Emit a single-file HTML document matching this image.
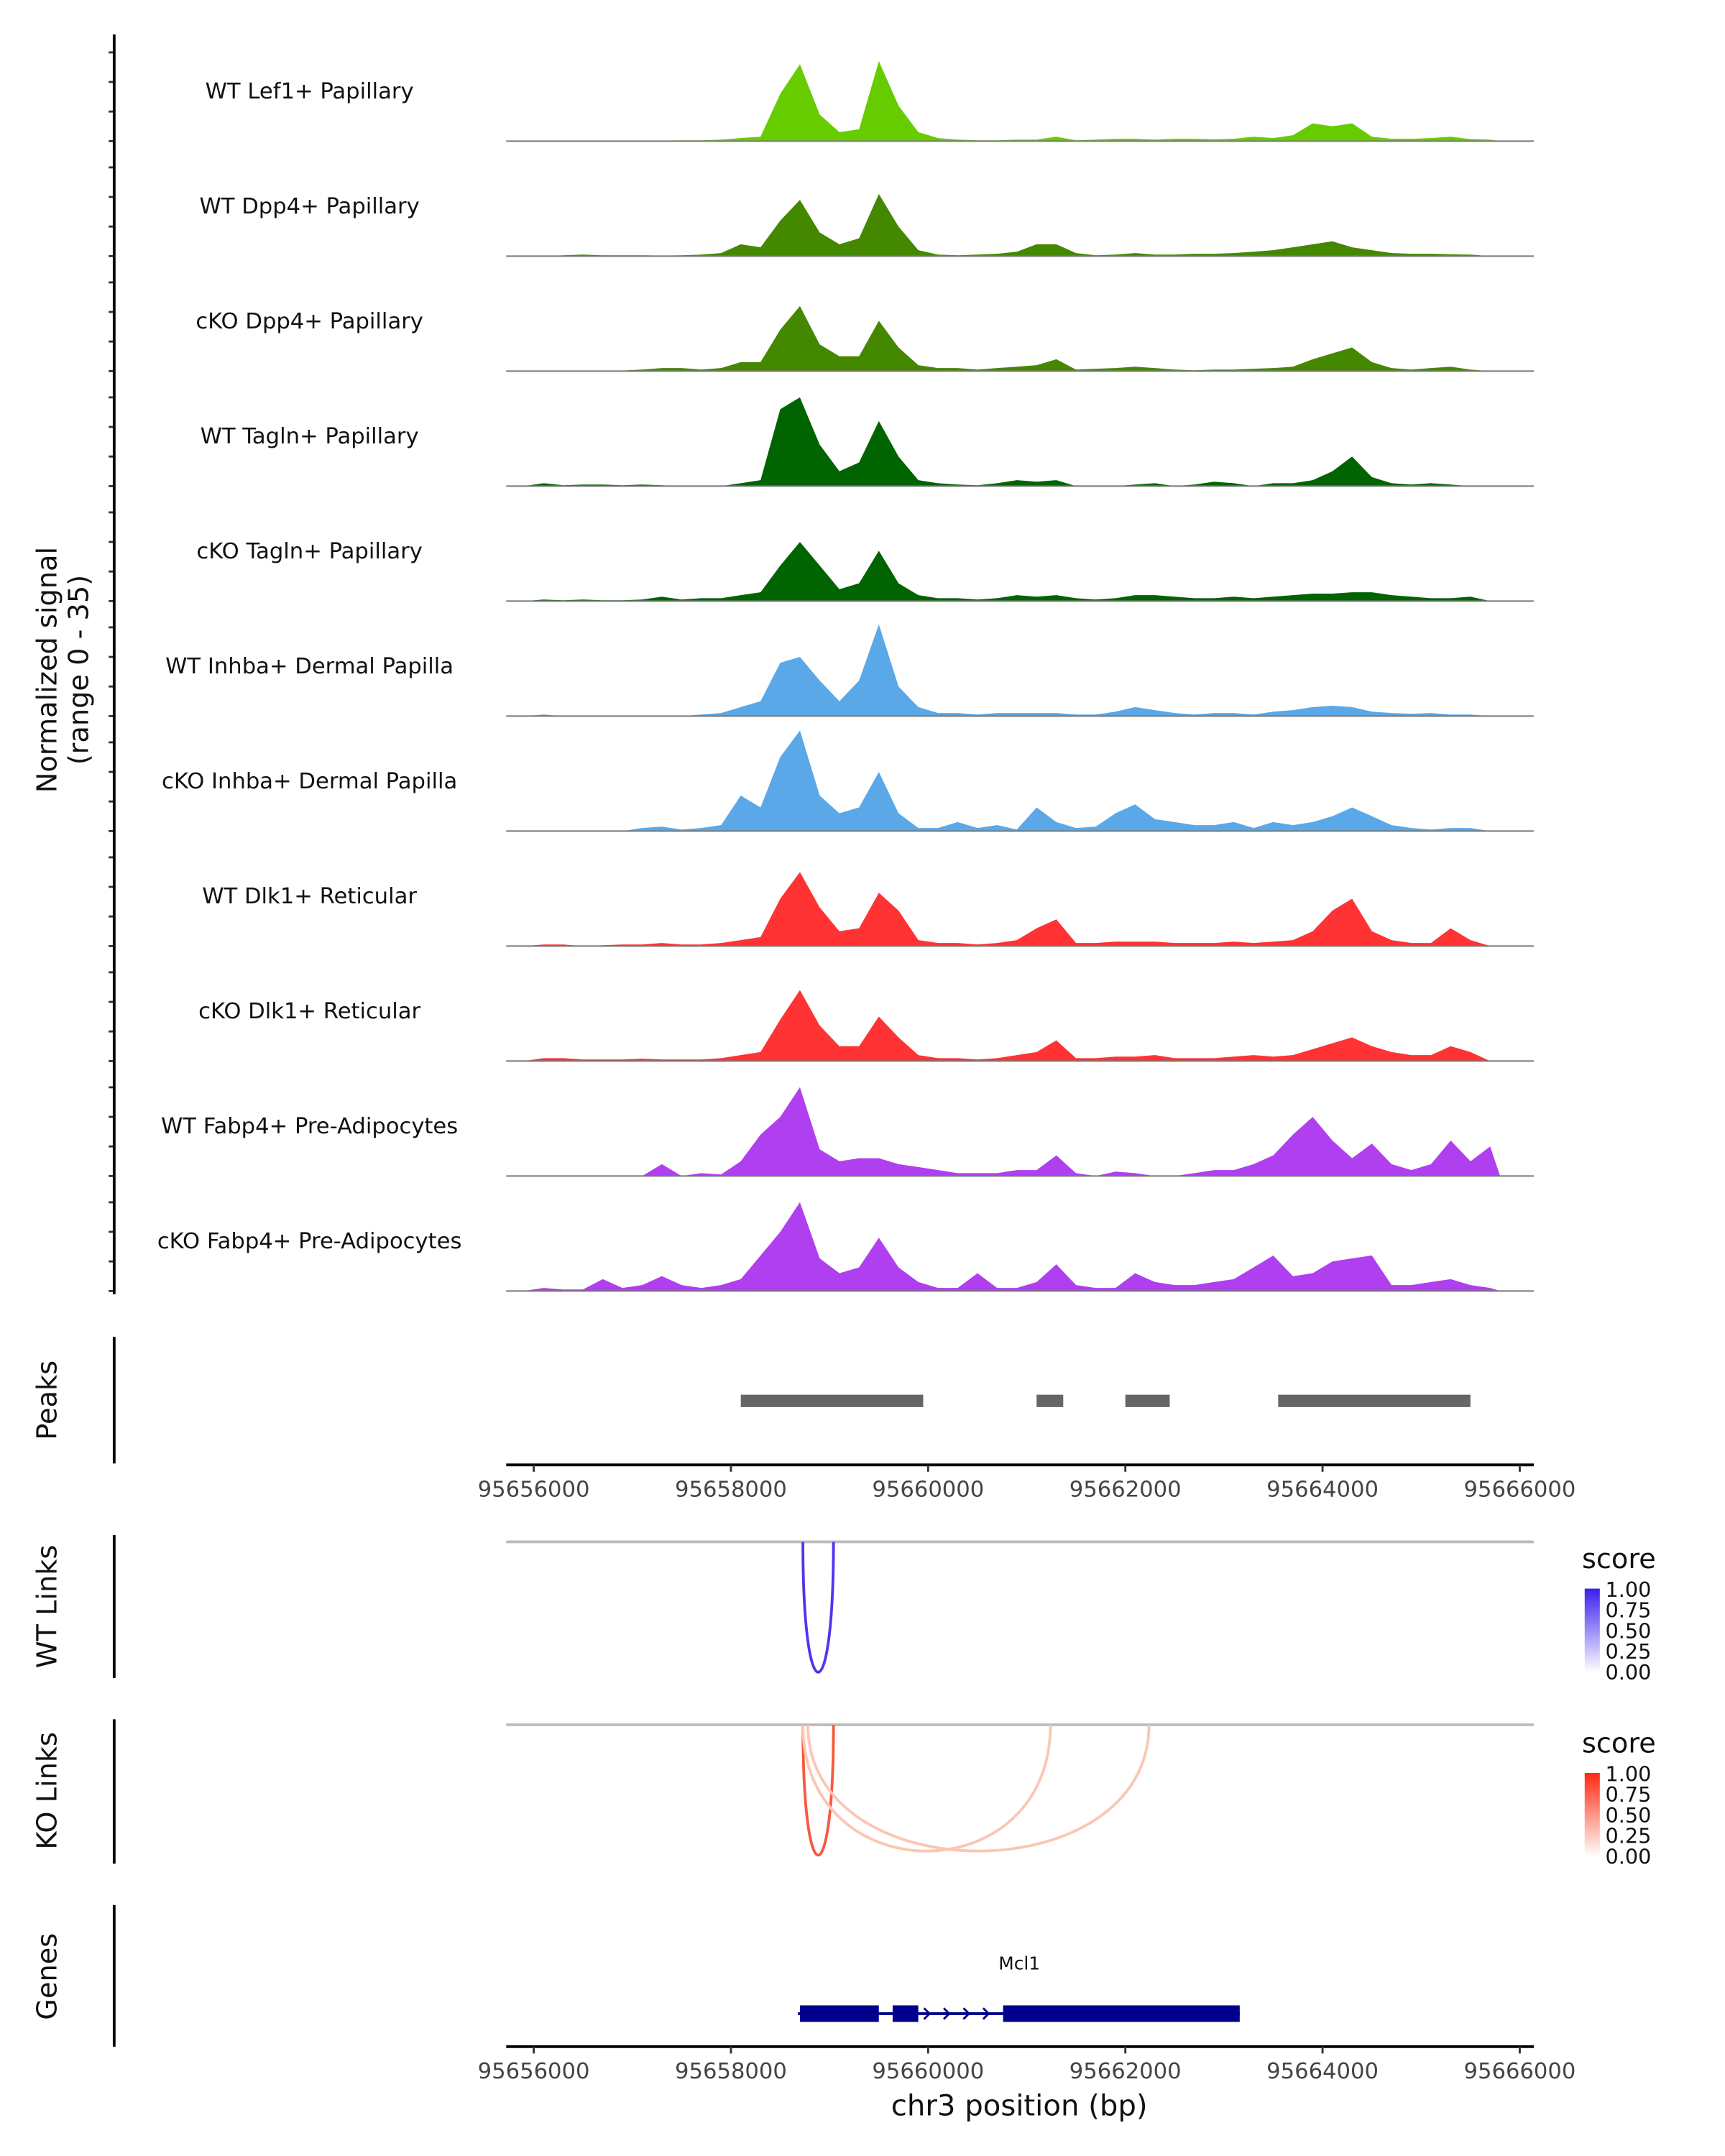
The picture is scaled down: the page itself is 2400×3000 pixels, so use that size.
<!DOCTYPE html>
<html><head><meta charset="utf-8"><style>html,body{margin:0;padding:0;background:#fff}svg{display:block}text{font-family:"DejaVu Sans","Liberation Sans",sans-serif}</style></head>
<body>
<svg id="chart" width="2400" height="3000" viewBox="0 0 1254 1567.5" xmlns="http://www.w3.org/2000/svg">
<rect width="1260" height="1570" fill="#fff"/>
<g id="tracks"></g>
<text transform="translate(41,487) rotate(-90)" text-anchor="middle" font-size="20" fill="#111">Normalized signal</text>
<text transform="translate(64,487) rotate(-90)" text-anchor="middle" font-size="20" fill="#111">(range 0 - 35)</text>
<line x1="83" y1="25" x2="83" y2="941" stroke="#000" stroke-width="2"/>
<g>
<text transform="translate(41,1018) rotate(-90)" text-anchor="middle" font-size="20" fill="#111">Peaks</text>
<line x1="83" y1="972" x2="83" y2="1064" stroke="#000" stroke-width="2"/>
<g id="peaks"></g>
</g>
<g id="xaxis1"></g>
<g>
<text transform="translate(41,1168) rotate(-90)" text-anchor="middle" font-size="20" fill="#111">WT Links</text>
<line x1="83" y1="1116" x2="83" y2="1220" stroke="#000" stroke-width="2"/>
<line x1="368" y1="1121" x2="1115" y2="1121" stroke="#bbb" stroke-width="2"/>
<g id="wtlinks"></g>
</g>
<g>
<text transform="translate(41,1302) rotate(-90)" text-anchor="middle" font-size="20" fill="#111">KO Links</text>
<line x1="83" y1="1250" x2="83" y2="1355" stroke="#000" stroke-width="2"/>
<line x1="368" y1="1254" x2="1115" y2="1254" stroke="#bbb" stroke-width="2"/>
<g id="kolinks"></g>
</g>
<defs>
<linearGradient id="gblue" x1="0" y1="1" x2="0" y2="0"><stop offset="0" stop-color="#fff"/><stop offset="1" stop-color="#3a1ff0"/></linearGradient>
<linearGradient id="gred" x1="0" y1="1" x2="0" y2="0"><stop offset="0" stop-color="#fff"/><stop offset="1" stop-color="#ff2a10"/></linearGradient>
</defs>
<g>
<text x="1150" y="1140" font-size="20" fill="#111">score</text>
<rect x="1152" y="1155" width="11" height="61" fill="url(#gblue)"/>
<text x="1167" y="1161" font-size="15" fill="#111">1.00</text><text x="1167" y="1176" font-size="15" fill="#111">0.75</text><text x="1167" y="1191" font-size="15" fill="#111">0.50</text><text x="1167" y="1206" font-size="15" fill="#111">0.25</text><text x="1167" y="1221" font-size="15" fill="#111">0.00</text>
</g>
<g>
<text x="1150" y="1274" font-size="20" fill="#111">score</text>
<rect x="1152" y="1289" width="11" height="61" fill="url(#gred)"/>
<text x="1167" y="1295" font-size="15" fill="#111">1.00</text><text x="1167" y="1310" font-size="15" fill="#111">0.75</text><text x="1167" y="1325" font-size="15" fill="#111">0.50</text><text x="1167" y="1340" font-size="15" fill="#111">0.25</text><text x="1167" y="1355" font-size="15" fill="#111">0.00</text>
</g>
<g>
<text transform="translate(41,1437) rotate(-90)" text-anchor="middle" font-size="20" fill="#111">Genes</text>
<line x1="83" y1="1385" x2="83" y2="1488" stroke="#000" stroke-width="2"/>
<g id="genes"></g>
</g>
<g id="xaxis2"></g>
<text x="741" y="1538" text-anchor="middle" font-size="21" fill="#111">chr3 position (bp)</text>
</svg>
<script>
const trackNames = ["WT Lef1+ Papillary","WT Dpp4+ Papillary","cKO Dpp4+ Papillary","WT Tagln+ Papillary","cKO Tagln+ Papillary","WT Inhba+ Dermal Papilla","cKO Inhba+ Dermal Papilla","WT Dlk1+ Reticular","cKO Dlk1+ Reticular","WT Fabp4+ Pre-Adipocytes","cKO Fabp4+ Pre-Adipocytes"];
const trackColors = ["#66cc00","#448800","#448800","#006400","#006400","#5aa8e8","#5aa8e8","#ff3333","#ff3333","#b03ff0","#b03ff0"];
const binStart = 95655800;
const binSize = 200;
const sigLef1 = [0,0,0.2,0.2,0.2,0.2,0.2,0.2,0.3,0.3,0.5,1,1.5,16,26,9,3,4,27,12,3,1,0.5,0.3,0.3,0.5,0.5,1.5,0.3,0.5,0.8,0.8,0.5,0.8,0.8,0.6,0.8,1.5,1,2,6,5,6,1.5,0.8,0.8,1,1.5,0.7,0.5];
const sigDpp4WT = [0,0,0.3,0.5,0.3,0.3,0.3,0.2,0.3,0.5,1,4,3,12,19,8,4,6,21,10,2,0.5,0.3,0.5,0.8,1.5,4,4,1,0.3,0.5,1,0.5,0.5,0.8,0.8,1,1.5,2,3,4,5,3,2,1,0.8,0.8,0.6,0.5,0];
const sigDpp4KO = [0,0,0.2,0.2,0.2,0.2,0.5,1,1,0.5,1,3,3,14,22,9,5,5,17,8,2,1,1,0.5,1,1.5,2,4,0.5,0.8,1,1.5,1,0.5,0.3,0.5,0.5,0.8,1,1.5,4,6,8,3,1,0.5,1,1.5,0.5,0];
const sigTaglnWT = [0,1,0.3,0.5,0.5,0.3,0.5,0.3,0,0,0,1,2,26,30,14,5,8,22,10,2,1,0.5,0.3,1,2,1.5,2,0,0,0,0.5,1,0,0.5,1.5,1,0,1,1,2,5,10,3,1,0.5,1,0.5,0,0];
const sigTaglnKO = [0,0.5,0.3,0.5,0.3,0.3,0.5,1.5,0.5,1,1,2,3,12,20,12,4,6,17,6,2,1,1,0.5,1,2,1.5,2,1,0.5,1,2,2,1.5,1,1,1.5,1,1.5,2,2.5,2.5,3,3,2,1.5,1,1,1.5,0];
const sigInhbaWT = [0,0.5,0,0,0,0,0,0,0,0.5,1,3,5,18,20,12,5,12,31,10,3,1,1,0.5,1,1,1,1,0.5,0.5,1.5,3,2,1,0.5,1,1,0.5,1.5,2,3,3.5,3,1.5,1,0.8,1,0.5,0.5,0];
const sigInhbaKO = [0,0,0,0,0,0,1,1.5,0.5,1,2,12,8,25,34,12,6,8,20,6,1,1,3,1,2,0.5,8,3,1,1.5,6,9,4,3,2,2,3,1,3,2,3,5,8,5,2,1,0.5,1,1,0];
const sigDlk1WT = [0,0.5,0.5,0,0.3,0.5,0.5,1,0.5,0.5,1,2,3,16,25,13,5,6,18,12,2,1,1,0.5,1,2,6,9,1,1,1.5,1.5,1.5,1,1,1,1.5,1,1.5,2,5,12,16,5,2,1,1,6,2,0];
const sigDlk1KO = [0,1,1,0.5,0.5,0.5,0.8,0.5,0.5,0.5,1,2,3,14,24,12,5,5,15,8,2,1,1,0.5,1,2,3,7,1,1,1.5,1.5,2,1,1,1,1.5,2,1.5,2,4,6,8,5,3,2,2,5,3,0];
const sigFabp4WT = [0,0,0,0,0,0,0,4,0,1,0.5,5,14,20,30,9,5,6,6,4,3,2,1,1,1,2,2,7,1,0,1.5,1,0,0,1,2,2,4,7,14,20,12,6,11,4,2,4,12,5,10];
const sigFabp4KO = [0,1,0.5,0.5,4,1,2,5,2,1,2,4,12,20,30,11,6,8,18,8,3,1,1,6,1,1,3,9,2,1,1,6,3,2,2,3,4,8,12,5,6,10,11,12,2,2,3,4,2,1];
const peakStarts = [95658100,95661100,95662000,95663550];
const peakEnds = [95659950,95661370,95662450,95665500];
const xTicks = [95656000,95658000,95660000,95662000,95664000,95666000];
const wtLinkStart = [95658730];
const wtLinkEnd = [95659040];
const wtLinkScore = [0.9];
const koLinkStart = [95658730,95658730,95658780];
const koLinkEnd = [95659040,95661240,95662240];
const koLinkScore = [0.8,0.25,0.25];
const exonStarts = [95658700,95659640,95660760];
const exonEnds = [95659500,95659900,95663160];

const NS="http://www.w3.org/2000/svg";
function x(g){return 388+(g-95656000)*0.07168;}
const yUnit=2.15, trackTop=19, trackH=83.6;
function mk(tag,attrs,parent){const e=document.createElementNS(NS,tag);for(const k in attrs)e.setAttribute(k,attrs[k]);parent.appendChild(e);return e;}
const sigs=[sigLef1,sigDpp4WT,sigDpp4KO,sigTaglnWT,sigTaglnKO,sigInhbaWT,sigInhbaKO,sigDlk1WT,sigDlk1KO,sigFabp4WT,sigFabp4KO];
const tg=document.getElementById('tracks');
sigs.forEach((s,t)=>{
  const base=trackTop+trackH*(t+1);
  const g=mk('g',{},tg);
  
  
  let d='M'+x(binStart).toFixed(1)+','+base;
  s.forEach((v,i)=>{const c=binStart+binSize*(i+0.5);d+=' L'+x(c).toFixed(1)+','+(base-v*yUnit).toFixed(1);});
  d+=' L'+x(binStart+binSize*s.length).toFixed(1)+','+base+' Z';
  const p=mk('path',{d:d,fill:trackColors[t]},g);
  
  
  mk('line',{x1:368,x2:1115,y1:base,y2:base,stroke:'#777','stroke-width':1},g);
  const lb=mk('text',{x:225,y:base-31,'text-anchor':'middle','font-size':'16',fill:'#111'},g);
  lb.textContent=trackNames[t];
  
  
  [0,10,20,30].forEach(v=>{mk('line',{x1:79,x2:83,y1:base-v*yUnit,y2:base-v*yUnit,stroke:'#333','stroke-width':1.5},g);});
});
const pk=document.getElementById('peaks');
peakStarts.forEach((s,i)=>{
  const r=mk('rect',{x:x(s),y:1014,width:x(peakEnds[i])-x(s),height:9,fill:'#666'},pk);
  
  
});
function axis(id,y){
  const g=document.getElementById(id);
  mk('line',{x1:368,x2:1115,y1:y,y2:y,stroke:'#000','stroke-width':2},g);
  xTicks.forEach(t=>{
    mk('line',{x1:x(t),x2:x(t),y1:y,y2:y+5,stroke:'#333','stroke-width':1.5},g);
    const tx=mk('text',{x:x(t),y:y+23,'text-anchor':'middle','font-size':'16',fill:'#444'},g);
    tx.textContent=t;
    
    
  });
}
axis('xaxis1',1065);
axis('xaxis2',1488);
function arcs(id,top,st,en,sc,col0,col1){
  const g=document.getElementById(id);
  st.forEach((s,i)=>{
    const x1=x(s),x2=x(en[i]);
    const depth=sc[i]>0.5?95:92;
    const d='M'+x1+','+top+' C'+x1+','+(top+depth*1.33)+' '+x2+','+(top+depth*1.33)+' '+x2+','+top;
    const col=sc[i]>0.5?col1:col0;
    const p=mk('path',{d:d,fill:'none',stroke:col,'stroke-width':2},g);
    
    
  });
}
arcs('wtlinks',1121,wtLinkStart,wtLinkEnd,wtLinkScore,'#c9bff8','#5533ee');
arcs('kolinks',1254,koLinkStart,koLinkEnd,koLinkScore,'#fbc6b4','#f65a3e');
const gn=document.getElementById('genes');
mk('line',{x1:x(95658680),x2:x(95663160),y1:1464,y2:1464,stroke:'#00008b','stroke-width':2},gn);
exonStarts.forEach((s,i)=>{
  const r=mk('rect',{x:x(s),y:1458,width:x(exonEnds[i])-x(s),height:12,fill:'#00008b'},gn);
  
  
});
[95659400,95660000,95660200,95660400,95660600].forEach(g=>{
  mk('path',{d:'M'+(x(g)-3)+',1460 L'+(x(g)+1)+',1464 L'+(x(g)-3)+',1468',stroke:'#00008b','stroke-width':1.5,fill:'none'},gn);
});
const gl=mk('text',{x:741,y:1432,'text-anchor':'middle','font-size':'13',fill:'#111'},gn);
gl.textContent='Mcl1';


</script>
</body></html>
